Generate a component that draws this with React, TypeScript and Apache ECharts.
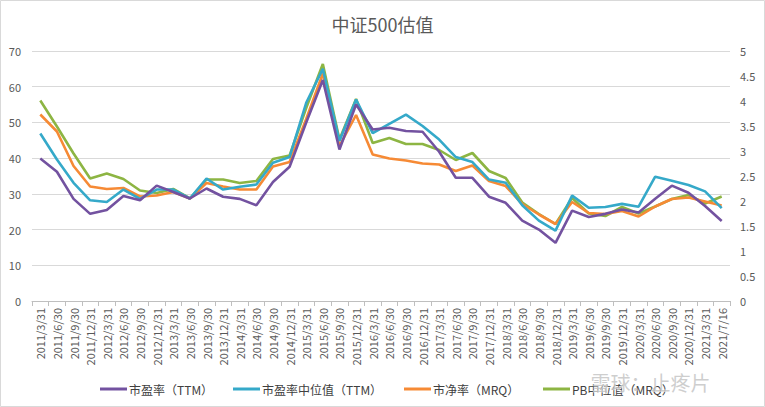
import React, { useEffect, useRef } from "react";
import * as echarts from "echarts";

const categories = [
  "2011/3/31", "2011/6/30", "2011/9/30", "2011/12/31",
  "2012/3/31", "2012/6/30", "2012/9/30", "2012/12/31",
  "2013/3/31", "2013/6/30", "2013/9/30", "2013/12/31",
  "2014/3/31", "2014/6/30", "2014/9/30", "2014/12/31",
  "2015/3/31", "2015/6/30", "2015/9/30", "2015/12/31",
  "2016/3/31", "2016/6/30", "2016/9/30", "2016/12/31",
  "2017/3/31", "2017/6/30", "2017/9/30", "2017/12/31",
  "2018/3/31", "2018/6/30", "2018/9/30", "2018/12/31",
  "2019/3/31", "2019/6/30", "2019/9/30", "2019/12/31",
  "2020/3/31", "2020/6/30", "2020/9/30", "2020/12/31",
  "2021/3/31", "2021/7/16",
];

// 市盈率（TTM） — left axis
const peTTM = [
  39.9, 36.2, 28.6, 24.4, 25.5, 29.4, 28.2, 32.3, 30.5, 28.7,
  31.5, 29.2, 28.6, 26.8, 33.3, 37.6, 50.0, 61.9, 42.4, 55.0,
  48.0, 48.5, 47.6, 47.4, 41.8, 34.5, 34.5, 29.2, 27.5, 22.5,
  20.0, 16.3, 25.3, 23.5, 24.4, 25.6, 24.8, 28.6, 32.3, 30.3,
  26.6, 22.4,
];

// 市盈率中位值（TTM） — left axis
const peMedian = [
  46.9, 39.6, 33.1, 28.2, 27.7, 31.2, 28.6, 31.2, 31.2, 28.7,
  34.3, 31.2, 32.0, 32.6, 38.7, 40.3, 55.5, 65.0, 44.8, 56.4,
  47.0, 49.6, 52.2, 49.0, 45.2, 40.3, 38.9, 34.0, 33.1, 26.8,
  22.5, 19.7, 29.5, 26.1, 26.3, 27.2, 26.4, 34.8, 33.7, 32.5,
  30.7, 26.0,
];

// 市净率（MRQ） — right axis
const pbMRQ = [
  3.73, 3.39, 2.70, 2.29, 2.24, 2.26, 2.09, 2.11, 2.18, 2.05,
  2.36, 2.29, 2.23, 2.23, 2.69, 2.78, 3.64, 4.55, 3.10, 3.72,
  2.93, 2.85, 2.81, 2.75, 2.73, 2.60, 2.71, 2.40, 2.30, 1.94,
  1.73, 1.54, 1.98, 1.76, 1.74, 1.80, 1.69, 1.89, 2.04, 2.07,
  1.99, 1.91,
];

// PB中位值（MRQ） — right axis
const pbMedian = [
  4.01, 3.49, 2.95, 2.45, 2.55, 2.44, 2.21, 2.16, 2.24, 2.05,
  2.43, 2.43, 2.36, 2.40, 2.84, 2.91, 3.86, 4.74, 3.23, 4.04,
  3.16, 3.26, 3.14, 3.14, 3.02, 2.82, 2.96, 2.60, 2.46, 1.97,
  1.74, 1.54, 2.06, 1.75, 1.70, 1.88, 1.75, 1.89, 2.04, 2.12,
  1.95, 2.09,
];

const seriesNames = ["市盈率（TTM）", "市盈率中位值（TTM）", "市净率（MRQ）", "PB中位值（MRQ）"];
const seriesColors = ["#7352A0", "#35A9C9", "#F68A35", "#8DB543"];
const legendLefts = [100, 233, 404, 543];

const FONT = "'Noto Sans CJK SC', 'Noto Sans', sans-serif";

export default function App() {
  const ref = useRef<HTMLDivElement>(null);

  useEffect(() => {
    if (!ref.current) return;
    const chart = echarts.init(ref.current, undefined, { renderer: "svg" });
    const dataSets = [peTTM, peMedian, pbMRQ, pbMedian];
    chart.setOption({
      animation: false,
      backgroundColor: "#ffffff",
      textStyle: { fontFamily: FONT },
      title: {
        text: "中证500估值",
        left: "center",
        top: 10,
        textStyle: { fontSize: 18, fontWeight: "normal", color: "#595959", fontFamily: FONT },
      },
      legend: seriesNames.map((name, i) => ({
        bottom: 12,
        left: legendLefts[i],
        icon: "rect",
        itemWidth: 27,
        itemHeight: 3,
        padding: 0,
        selectedMode: false,
        textStyle: { fontSize: 12, color: "#404040", fontFamily: FONT, padding: [0, 0, 0, -3] },
        data: [name],
      })),
      grid: { left: 32, right: 35, top: 51, bottom: 106, containLabel: false },
      xAxis: {
        type: "category",
        data: categories,
        boundaryGap: true,
        axisLine: { lineStyle: { color: "#bfbfbf" } },
        axisTick: { show: true, alignWithLabel: false, length: 5, lineStyle: { color: "#bfbfbf" } },
        axisLabel: { rotate: 90, interval: 0, fontSize: 11, color: "#595959", margin: 7, fontFamily: FONT },
      },
      yAxis: [
        {
          type: "value",
          min: 0,
          max: 70,
          interval: 10,
          axisLine: { show: false },
          axisTick: { show: false },
          splitLine: { lineStyle: { color: "#d9d9d9", width: 1 } },
          axisLabel: { fontSize: 11, color: "#595959", margin: 11, fontFamily: FONT },
        },
        {
          type: "value",
          min: 0,
          max: 5,
          interval: 0.5,
          axisLine: { show: false },
          axisTick: { show: false },
          splitLine: { show: false },
          axisLabel: { fontSize: 11, color: "#595959", margin: 10, fontFamily: FONT },
        },
      ],
      series: seriesNames.map((name, i) => ({
        name,
        type: "line",
        yAxisIndex: i < 2 ? 0 : 1,
        data: dataSets[i],
        showSymbol: false,
        symbol: "none",
        lineStyle: { width: 2.6, color: seriesColors[i] },
        itemStyle: { color: seriesColors[i] },
        z: 10 - i,
      })),
      graphic: [
        {
          type: "rect",
          silent: true,
          shape: { x: 0.5, y: 0.5, width: 764, height: 406 },
          style: { fill: "none", stroke: "#d9d9d9", lineWidth: 1 },
        },
        {
          type: "text",
          silent: true,
          left: 590,
          top: 372,
          z: 100,
          style: {
            text: "雪球：止疼片",
            fontSize: 20,
            fontFamily: FONT,
            fill: "rgba(190,190,190,0.75)",
            stroke: "rgba(255,255,255,0.6)",
            lineWidth: 1,
          },
        },
      ],
    });
    return () => chart.dispose();
  }, []);

  return (
    <div
      ref={ref}
      style={{ position: "fixed", left: 0, top: 0, width: 765, height: 407, background: "#fff" }}
    />
  );
}
